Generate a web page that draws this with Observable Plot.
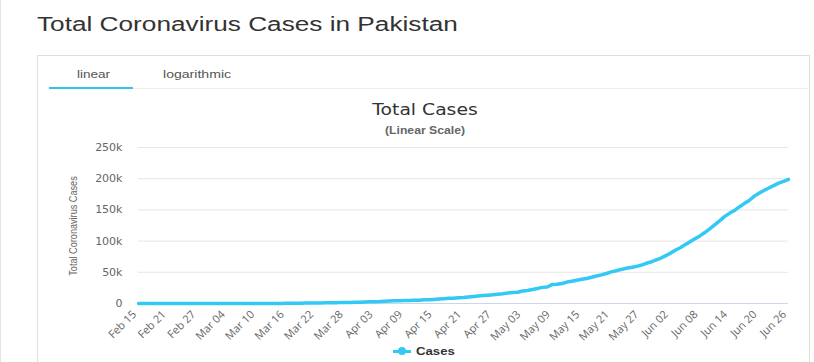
<!DOCTYPE html>
<html><head><meta charset="utf-8">
<script src="https://cdn.jsdelivr.net/npm/d3@7"></script>
<script src="https://cdn.jsdelivr.net/npm/@observablehq/plot@0.6"></script>
<style>
body{margin:0;width:814px;height:362px;position:relative;overflow:hidden;background:#fff;font-family:"Liberation Sans",Arial,sans-serif;}
.abs{position:absolute;white-space:nowrap;line-height:1;}
</style></head><body>
<div class="abs" style="left:0;top:0;width:1px;height:362px;background:#e4e4e4"></div>
<div class="abs" style="left:37px;top:14px;font-size:20px;color:#333;transform:scaleX(1.31);transform-origin:0 0">Total Coronavirus Cases in Pakistan</div>
<div class="abs" style="left:37px;top:55px;width:773px;height:330px;border:1px solid #dedede;box-sizing:border-box"></div>
<div class="abs" style="left:77px;top:69px;font-size:11px;color:#555;transform:scaleX(1.23);transform-origin:0 0">linear</div>
<div class="abs" style="left:163px;top:69px;font-size:11px;color:#555;transform:scaleX(1.28);transform-origin:0 0">logarithmic</div>
<div class="abs" style="left:133px;top:88px;width:675px;height:1px;background:#eeeeee"></div>
<div class="abs" style="left:49px;top:87px;width:84px;height:2px;background:#33c3f0"></div>
<div class="abs" style="left:325px;top:103px;width:200px;text-align:center;font-family:'DejaVu Sans';font-size:15px;color:#333;transform:scaleX(1.25)">Total Cases</div>
<div class="abs" style="left:325px;top:126px;width:200px;text-align:center;font-weight:bold;font-size:10px;color:#666;transform:scaleX(1.22)">(Linear Scale)</div>
<div class="abs" style="left:73px;top:225.5px;font-family:'Liberation Sans Narrow','Liberation Sans',sans-serif;font-size:11px;color:#666;transform:translate(-50%,-50%) rotate(-90deg) scaleX(0.83)">Total Coronavirus Cases</div>
<div id="chart" class="abs" style="left:0;top:138px"></div>
<div class="abs" style="left:393px;top:349.5px;width:18px;height:3px;background:#33c9f5"></div>
<div class="abs" style="left:398px;top:347px;width:8px;height:8px;border-radius:50%;background:#33c9f5"></div>
<div class="abs" style="left:416px;top:345.7px;font-size:11px;font-weight:bold;color:#333;transform:scaleX(1.2);transform-origin:0 0">Cases</div>
<script>
// Daily total cases, Feb 15 2020 .. Jun 26 2020 (133 days)
const startDate = "2020-02-15";
const cases = [
  0,0,0,0,0,0,0,0,0,0,
  2,2,2,4,
  4,5,5,5,5,6,6,6,16,19,20,21,28,31,53,136,236,299,454,501,730,776,875,972,1063,1201,1373,1495,1597,1717,1938,
  2118,2421,2686,2818,3157,3766,4035,4263,4489,4695,4892,5230,5374,5837,5988,6505,7025,7638,8348,8418,9216,9749,10513,11155,11940,12657,13328,14079,14885,15759,
  16817,17699,18114,20084,20941,22413,24073,25837,26435,30334,30941,32081,34336,35788,37218,38799,40151,42125,43966,45898,48091,50694,52437,54601,56349,57705,59151,61227,64028,66457,69496,
  72460,76398,80463,85264,89249,93983,98943,103671,108317,113702,119536,125933,132405,139230,144478,148921,154760,160118,165062,171666,176617,181088,185034,188926,192970,195745,198883
];
const xTickLabels = ["Feb 15","Feb 21","Feb 27","Mar 04","Mar 10","Mar 16","Mar 22","Mar 28","Apr 03","Apr 09","Apr 15","Apr 21","Apr 27","May 03","May 09","May 15","May 21","May 27","Jun 02","Jun 08","Jun 14","Jun 20","Jun 26"];
const yTicks = [0, 50000, 100000, 150000, 200000, 250000];
const yTickLabels = ["0", "50k", "100k", "150k", "200k", "250k"];

const start = new Date(startDate + "T00:00:00Z");
const dates = cases.map((_, i) => d3.utcDay.offset(start, i));
const data = dates.map((d, i) => ({date: d, value: cases[i]}));
const parseTick = d3.utcParse("%Y %b %d");
const xTicks = xTickLabels.map(s => parseTick("2020 " + s));
const xLabelOf = new Map(xTicks.map((d, i) => [+d, xTickLabels[i]]));
const yLabelOf = new Map(yTicks.map((v, i) => [v, yTickLabels[i]]));

const chart = Plot.plot({
  width: 814, height: 207,
  marginTop: 9, marginBottom: 42, marginLeft: 138, marginRight: 26,
  style: {fontFamily: "'DejaVu Sans', sans-serif", fontSize: "11px", color: "#666", background: "transparent", overflow: "visible"},
  x: {type: "utc", domain: [dates[0], dates[dates.length - 1]]},
  y: {domain: [0, 250000]},
  marks: [
    Plot.gridY(yTicks.slice(1), {stroke: "#e6e6e6", strokeOpacity: 1}),
    Plot.ruleY([0], {stroke: "#ccd6eb"}),
    Plot.axisY(yTicks, {tickSize: 0, tickPadding: 16, tickFormat: v => yLabelOf.get(v), label: null, fill: "#666", letterSpacing: "0.6px"}),
    Plot.axisX(xTicks, {tickSize: 0, tickPadding: 9, dx: -4, tickRotate: -45, tickFormat: d => xLabelOf.get(+d), label: null, fill: "#666", fontFamily: "'Open Sans', sans-serif", fontSize: 11}),
    Plot.lineY(data, {x: "date", y: "value", stroke: "#33c9f5", strokeWidth: 3.5, strokeLinejoin: "round", strokeLinecap: "round"})
  ]
});
document.getElementById("chart").appendChild(chart);
</script>
</body></html>
